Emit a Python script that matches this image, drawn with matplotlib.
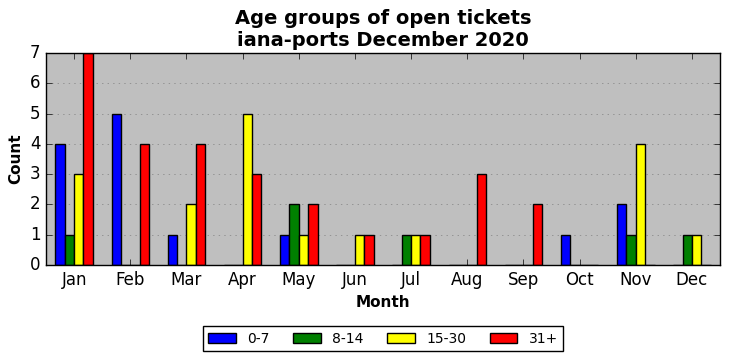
import numpy as np
import matplotlib
matplotlib.use('Agg')
import matplotlib.pyplot as plt

plt.style.use('classic')

months = ['Jan', 'Feb', 'Mar', 'Apr', 'May', 'Jun', 'Jul', 'Aug', 'Sep', 'Oct', 'Nov', 'Dec']
age_0_7 = [4, 5, 1, 0, 1, 0, 0, 0, 0, 1, 2, 0]
age_8_14 = [1, 0, 0, 0, 2, 0, 1, 0, 0, 0, 1, 1]
age_15_30 = [3, 0, 2, 5, 1, 1, 1, 0, 0, 0, 4, 1]
age_31_plus = [7, 4, 4, 3, 2, 1, 1, 3, 2, 0, 0, 0]

series = [
    ('0-7', age_0_7, 'blue'),
    ('8-14', age_8_14, 'green'),
    ('15-30', age_15_30, 'yellow'),
    ('31+', age_31_plus, 'red'),
]

fig = plt.figure(figsize=(7.31, 3.61), dpi=100)
ax = fig.add_axes([0.063, 0.266, 0.922, 0.587])

x = np.arange(len(months))
width = 1 / 6
for i, (label, vals, color) in enumerate(series):
    ax.bar(x - 2 * width + i * width, vals, width, label=label, color=color,
           edgecolor='black', linewidth=1, align='edge')

ax.set_xlim(-0.5, 11.5)
ax.set_ylim(0, 7)
ax.set_xticks(x)
ax.set_xticklabels(months)
ax.yaxis.grid(True, linestyle=':', color='gray')
ax.set_axisbelow(True)
ax.set_facecolor('#bfbfbf')
ax.set_title('Age groups of open tickets\niana-ports December 2020', fontsize=14, fontweight='bold')
ax.set_xlabel('Month', fontsize=11, fontweight='bold')
ax.set_ylabel('Count', fontsize=11, fontweight='bold')
ax.legend(loc='upper center', bbox_to_anchor=(0.5, -0.255), ncol=4, fontsize=10,
          columnspacing=1.7)

fig.savefig('out.png', dpi=100)
